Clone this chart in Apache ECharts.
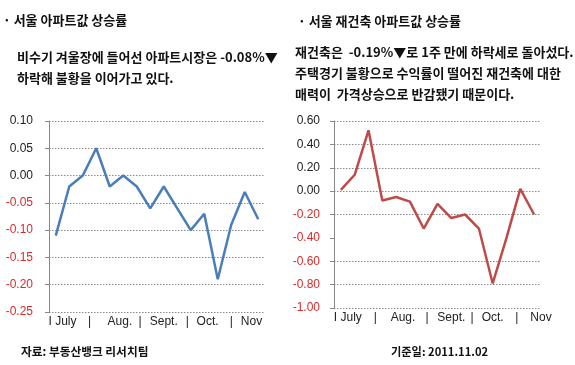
<!DOCTYPE html>
<html>
<head>
<meta charset="utf-8">
<script src="https://cdn.jsdelivr.net/npm/echarts@6/dist/echarts.min.js"></script>
<style>
html,body{margin:0;padding:0;background:#fff;}
#c{width:575px;height:365px;}
</style>
</head>
<body>
<div id="c"></div>
<script>
// ---- data ----
const leftValues = [-0.11, -0.02, 0.00, 0.05, -0.02, 0.00, -0.02, -0.06, -0.02, -0.06, -0.10, -0.07, -0.19, -0.09, -0.03, -0.08];
const rightValues = [0.01, 0.14, 0.52, -0.08, -0.05, -0.09, -0.32, -0.11, -0.23, -0.20, -0.32, -0.79, -0.40, 0.02, -0.20];
const leftTickLabels = ['I July', '|', 'Aug.', '|', 'Sept.', '|', 'Oct.', '|', 'Nov'];
const rightTickLabels = ['I July', '|', 'Aug.', '|', 'Sept.', '|', 'Oct.', '|', 'Nov'];
const leftTickPos = [1, 3, 5.25, 6.75, 8.5, 10.25, 11.75, 13.5, 15];
const rightTickPos = [1, 3, 5, 6.75, 8.5, 10, 11.5, 13.25, 15];
const leftTitle = '· 서울 아파트값 상승률';
const rightTitle = '· 서울 재건축 아파트값 상승률';
const leftDesc = ['비수기 겨울장에 들어선 아파트시장은 -0.08%▼', '하락해 불황을 이어가고 있다.'];
const rightDesc = ['재건축은  -0.19%▼로 1주 만에 하락세로 돌아섰다.', '주택경기 불황으로 수익률이 떨어진 재건축에 대한', '매력이  가격상승으로 반감됐기 때문이다.'];
const sourceText = '자료: 부동산뱅크 리서치팀';
const dateText = '기준일: 2011.11.02';

const KR = '"Noto Sans CJK KR", sans-serif';
const LAT = '"Liberation Sans", Arial, sans-serif';

const chart = echarts.init(document.getElementById('c'), null, {renderer: 'canvas'});

function idx(n){ return Array.from({length:n}, (_, i) => String(i+1)); }

function labelFormatter(labels, pos){
  return function(v){
    for (let i = 0; i < pos.length; i++) {
      if (Math.abs(v - pos[i]) < 1e-6) return labels[i];
    }
    return '';
  };
}

const yLabel = {
  fontFamily: LAT, fontSize: 12,
  color: v => (parseFloat(v) < 0 ? '#d92b2b' : '#222'),
};

function text(t, x, y, size, weight){
  return {type:'text', x:x, y:y, style:{text:t, font:(weight||'bold')+' '+size+'px '+KR, fill:'#111', textVerticalAlign:'middle'}};
}

const graphics = [
  text(leftTitle, 3, 20, 13),
  text(leftDesc[0], 17, 57, 13),
  text(leftDesc[1], 17, 78, 13),
  text(rightTitle, 298, 21, 13),
  text(rightDesc[0], 295, 52, 13),
  text(rightDesc[1], 295, 73, 13),
  text(rightDesc[2], 295, 94, 13),
  text(sourceText, 21, 352, 11.7),
  text(dateText, 391, 352, 11.2),
];

chart.setOption({
  animation: false,
  backgroundColor: '#fff',
  graphic: graphics,
  grid: [
    {left: 49, right: 310, top: 121, bottom: 53},
    {left: 334, right: 34, top: 121, bottom: 57}
  ],
  xAxis: [
    {type:'category', gridIndex:0, data: idx(leftValues.length), boundaryGap:true,
     axisLine:{show:false}, axisTick:{show:false}, axisLabel:{show:false}, splitLine:{show:false}},
    {type:'category', gridIndex:1, data: idx(rightValues.length), boundaryGap:true,
     axisLine:{show:false}, axisTick:{show:false}, axisLabel:{show:false}, splitLine:{show:false}},
    {type:'value', gridIndex:0, min:0, max:leftValues.length, interval:0.25, position:'bottom',
     axisLine:{show:false}, axisTick:{show:false}, splitLine:{show:false},
     axisLabel:{formatter: labelFormatter(leftTickLabels, leftTickPos), fontFamily:LAT, fontSize:12, color:'#222', margin:4, showMinLabel:true, showMaxLabel:true}},
    {type:'value', gridIndex:1, min:0, max:rightValues.length, interval:0.25, position:'bottom',
     axisLine:{show:false}, axisTick:{show:false}, splitLine:{show:false},
     axisLabel:{formatter: labelFormatter(rightTickLabels, rightTickPos), fontFamily:LAT, fontSize:12, color:'#222', margin:4, showMinLabel:true, showMaxLabel:true}}
  ],
  yAxis: [
    {type:'value', gridIndex:0, min:-0.25, max:0.10, interval:0.05,
     axisLine:{show:true, lineStyle:{color:'#888', width:1}},
     axisTick:{show:true, length:4, lineStyle:{color:'#888'}},
     axisLabel:Object.assign({margin:16, formatter: v => v.toFixed(2)}, yLabel),
     splitLine:{show:true, lineStyle:{color:'#8a8a8a', type:[1.5,1.5], width:1}}},
    {type:'value', gridIndex:1, min:-1.0, max:0.6, interval:0.2,
     axisLine:{show:true, lineStyle:{color:'#888', width:1}},
     axisTick:{show:true, length:4, lineStyle:{color:'#888'}},
     axisLabel:Object.assign({margin:14, formatter: v => v.toFixed(2)}, yLabel),
     splitLine:{show:true, lineStyle:{color:['#8a8a8a','#8a8a8a','#8a8a8a','rgba(0,0,0,0)','#8a8a8a','#8a8a8a','#8a8a8a','#8a8a8a','#8a8a8a'], type:[1.5,1.5], width:1}}}
  ],
  series: [
    {type:'line', xAxisIndex:0, yAxisIndex:0, data:leftValues, showSymbol:false, symbol:'none',
     lineStyle:{color:'#4a7ebb', width:2.5}, itemStyle:{color:'#4a7ebb'}},
    {type:'line', xAxisIndex:1, yAxisIndex:1, data:rightValues, showSymbol:false, symbol:'none',
     lineStyle:{color:'#be4b48', width:2.5}, itemStyle:{color:'#be4b48'}}
  ]
});
</script>
</body>
</html>
